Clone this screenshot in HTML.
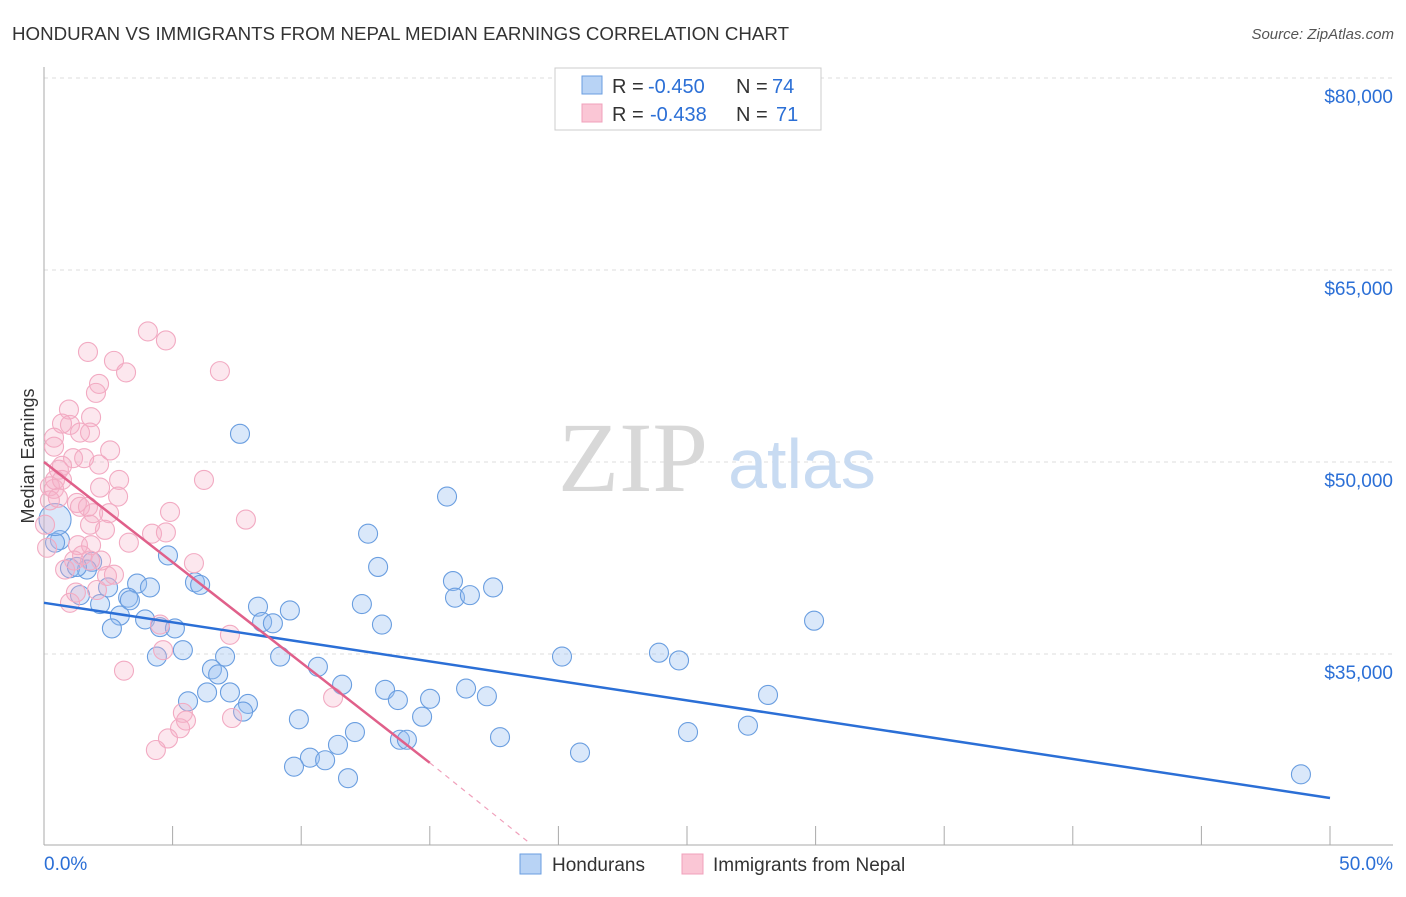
<!DOCTYPE html>
<html><head><meta charset="utf-8"><style>
body{margin:0;background:#fff;font-family:"Liberation Sans",sans-serif;}
</style></head><body>
<svg width="1406" height="892" viewBox="0 0 1406 892" xmlns="http://www.w3.org/2000/svg" font-family="Liberation Sans, sans-serif">
<text x="12" y="40" font-size="18" fill="#333" textLength="777" lengthAdjust="spacingAndGlyphs">HONDURAN VS IMMIGRANTS FROM NEPAL MEDIAN EARNINGS CORRELATION CHART</text>
<text x="1394" y="39" font-size="15" fill="#555" text-anchor="end" font-style="italic">Source: ZipAtlas.com</text>
<g id="grid"></g>
<text x="633" y="491" font-size="100" fill="#d8d8d8" style="font-family:'Liberation Serif',serif" text-anchor="middle">ZIP</text>
<text x="802" y="488" font-size="70" fill="#c8dbf2" text-anchor="middle">atlas</text>
<g id="axes"></g>
<g id="pts"></g>
<g id="lines"></g>
<text x="34" y="456" font-size="18" fill="#333" text-anchor="middle" transform="rotate(-90 34 456)">Median Earnings</text>
<g>
<rect x="555" y="68" width="266" height="62" fill="#fff" stroke="#ccc"/>
<rect x="582" y="76" width="20" height="18" fill="#b8d3f5" stroke="#6a9ee0"/>
<rect x="582" y="104" width="20" height="18" fill="#fac6d5" stroke="#f0a0bb"/>
<text y="93" font-size="20" fill="#333"><tspan x="612">R =</tspan><tspan x="648" fill="#2b6fd6">-0.450</tspan><tspan x="736">N =</tspan><tspan x="772" fill="#2b6fd6">74</tspan></text>
<text y="121" font-size="20" fill="#333"><tspan x="612">R =</tspan><tspan x="650" fill="#2b6fd6">-0.438</tspan><tspan x="736">N =</tspan><tspan x="776" fill="#2b6fd6">71</tspan></text>
</g>
<g>
<rect x="520" y="854" width="21" height="20" fill="#b8d3f5" stroke="#6a9ee0"/>
<text x="552" y="871" font-size="19" fill="#333">Hondurans</text>
<rect x="682" y="854" width="21" height="20" fill="#fac6d5" stroke="#f0a0bb"/>
<text x="713" y="871" font-size="19" fill="#333">Immigrants from Nepal</text>
</g>
</svg>
<script>
const yTicks=[35000,50000,65000,80000];
const yTickLabels=["$35,000","$50,000","$65,000","$80,000"];
const xTicks=[0,5,10,15,20,25,30,35,40,45,50];
const blueX=[7.62,15.67,12.6,4.82,12.99,15.9,17.46,15.98,16.56,5.87,6.07,3.62,4.12,2.49,2.18,3.27,3.34,1.4,1.87,1.67,1.01,1.28,0.62,0.43,2.95,2.64,3.93,4.51,5.09,8.32,9.56,8.48,8.9,12.36,13.14,5.4,4.39,7.04,6.53,6.77,9.18,10.65,11.59,13.26,13.76,15.01,16.41,17.22,6.34,7.23,5.6,7.93,7.74,9.91,12.09,11.43,10.34,10.93,9.72,11.82,13.84,14.11,14.7,17.73,20.14,20.84,23.91,24.69,25.04,27.37,28.15,29.94,48.87,0.43];
const blueY=[52200,47300,44400,42700,41800,40700,40200,39400,39600,40600,40400,40500,40200,40200,38900,39400,39200,39600,42200,41600,41700,41800,43900,43700,38000,37000,37700,37100,37000,38700,38400,37500,37400,38900,37300,35300,34800,34800,33800,33400,34800,34000,32600,32200,31400,31500,32300,31700,32000,32000,31300,31100,30500,29900,28900,27900,26900,26700,26200,25300,28300,28300,30100,28500,34800,27300,35100,34500,28900,29400,31800,37600,25600,45500];
const pinkX=[4.04,4.74,1.71,2.72,6.84,3.19,2.14,2.02,0.97,1.83,1.01,0.7,1.4,1.79,0.39,2.57,0.39,1.13,2.14,0.7,0.58,6.22,2.92,2.18,2.88,0.23,0.39,1.28,1.4,1.71,2.53,4.9,7.85,1.91,2.37,3.3,4.2,4.74,5.83,1.32,1.83,1.48,1.17,0.82,2.45,2.72,2.06,1.01,7.23,4.51,4.63,3.11,11.24,5.4,5.52,5.29,7.31,4.82,4.35,0.43,0.7,1.79,0.04,0.12,2.22,1.24,1.79,0.23,0.54,1.56];
const pinkY=[60200,59500,58600,57900,57100,57000,56100,55400,54100,53500,52900,53000,52300,52300,51900,50900,51200,50300,49800,49700,49400,48600,48600,48000,47300,48100,47900,46800,46500,46500,46000,46100,45500,46000,44700,43700,44400,44500,42100,43500,43500,42700,42300,41600,41100,41200,40000,39000,36500,37300,35300,33700,31600,30400,29800,29200,30000,28400,27500,48600,48600,45100,45100,43300,42300,39800,42300,47000,47200,50300];
const blueLine=[[0,39000],[50,23750]];
const pinkLine=[[0,50000],[15,26500]];
const pinkDash=[[15,26500],[18.9,20200]];
const X=v=>44+v/50*1286;
const Y=v=>78+(80000-v)/15000*192;
const NS="http://www.w3.org/2000/svg";
function mk(t,a,p){const e=document.createElementNS(NS,t);for(const k in a)e.setAttribute(k,a[k]);p.appendChild(e);return e;}
const grid=document.getElementById('grid'),axes=document.getElementById('axes'),pts=document.getElementById('pts'),lines=document.getElementById('lines');
yTicks.forEach((v,i)=>{
 const l=mk('line',{x1:44,x2:1393,y1:Y(v),y2:Y(v),stroke:'#ddd','stroke-dasharray':'4,4'},grid);
 
 
 const t=mk('text',{x:1393,y:Y(v)+25,'font-size':19,fill:'#2b6fd6','text-anchor':'end'},axes);
 t.textContent=yTickLabels[i];
 
 
});
const ax=mk('line',{x1:44,x2:44,y1:67,y2:845,stroke:'#aaa'},axes);


const bx=mk('line',{x1:44,x2:1393,y1:845,y2:845,stroke:'#aaa'},axes);


xTicks.forEach(v=>{
 const l=mk('line',{x1:X(v),x2:X(v),y1:826,y2:845,stroke:'#aaa'},axes);
 
 
});
const xl0=mk('text',{x:44,y:870,'font-size':19,fill:'#2b6fd6'},axes);xl0.textContent='0.0%';


const xl1=mk('text',{x:1393,y:870,'font-size':19,fill:'#2b6fd6','text-anchor':'end'},axes);xl1.textContent='50.0%';


blueX.forEach((x,i)=>{
 const c=mk('circle',{cx:X(x),cy:Y(blueY[i]),r:i===blueX.length-1?16:9.5,fill:'rgba(150,190,240,0.35)',stroke:'#6a9ee0','stroke-width':1.1},pts);
 
 
});
pinkX.forEach((x,i)=>{
 const c=mk('circle',{cx:X(x),cy:Y(pinkY[i]),r:9.5,fill:'rgba(245,175,200,0.3)',stroke:'#f2aac2','stroke-width':1.1},pts);
 
 
});
const bl=mk('line',{x1:X(blueLine[0][0]),y1:Y(blueLine[0][1]),x2:X(blueLine[1][0]),y2:Y(blueLine[1][1]),stroke:'#2b6fd6','stroke-width':2.5},lines);


const pl=mk('line',{x1:X(pinkLine[0][0]),y1:Y(pinkLine[0][1]),x2:X(pinkLine[1][0]),y2:Y(pinkLine[1][1]),stroke:'#e0608a','stroke-width':2.5},lines);


const pd=mk('line',{x1:X(pinkDash[0][0]),y1:Y(pinkDash[0][1]),x2:X(pinkDash[1][0]),y2:Y(pinkDash[1][1]),stroke:'#f0a0bb','stroke-width':1.2,'stroke-dasharray':'5,5'},lines);


</script>
</body></html>
